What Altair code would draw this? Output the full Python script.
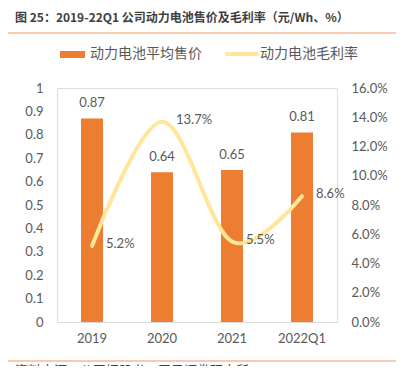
import altair as alt
import pandas as pd

categories = ["2019", "2020", "2021", "2022Q1"]
prices = [0.87, 0.64, 0.65, 0.81]
margins = [0.052, 0.137, 0.055, 0.086]
price_labels = ["0.87", "0.64", "0.65", "0.81"]
margin_labels = ["5.2%", "13.7%", "5.5%", "8.6%"]
left_ticks = [0, 0.1, 0.2, 0.3, 0.4, 0.5, 0.6, 0.7, 0.8, 0.9, 1.0]
right_ticks = [0, 0.02, 0.04, 0.06, 0.08, 0.10, 0.12, 0.14, 0.16]

title_text = "图 25：2019-22Q1 公司动力电池售价及毛利率（元/Wh、%）"
footer_text = "资料来源：公司招股书，天风证券研究所"
legend_bar = "动力电池平均售价"
legend_line = "动力电池毛利率"

df = pd.DataFrame({
    "cat": categories,
    "price": prices,
    "margin": margins,
    "plabel": price_labels,
    "mlabel": margin_labels,
})

GRAY = "#595959"
FONT = "Noto Sans CJK SC"
NUMFONT = "Lato"
ORANGE = "#ED7D31"
YELLOW = "#FFE699"

xscale = alt.Scale(domain=categories, paddingInner=0.686, paddingOuter=0.343)
x_axis = alt.Axis(title=None, labelAngle=0, ticks=False, domainColor="#D9D9D9",
                  domainWidth=1, labelFontSize=13, labelColor=GRAY, labelFont=NUMFONT,
                  labelPadding=10, grid=False)
left_axis = alt.Axis(title=None, values=left_ticks, format="~g", domain=False,
                     ticks=False, grid=False, labelPadding=14, labelFontSize=13,
                     labelColor=GRAY, labelFont=NUMFONT, orient="left")
right_axis = alt.Axis(title=None, values=right_ticks, format=".1%", domain=False,
                      ticks=False, grid=False, labelPadding=14, labelFontSize=13,
                      labelColor=GRAY, labelFont=NUMFONT, orient="right")
left_scale = alt.Scale(domain=[0, 1])
right_scale = alt.Scale(domain=[0, 0.16])

X = alt.X("cat:N", sort=categories, scale=xscale, axis=x_axis)

base = alt.Chart(df)

bars = base.mark_bar(color=ORANGE).encode(
    x=X,
    y=alt.Y("price:Q", scale=left_scale, axis=left_axis),
)
bar_text = base.mark_text(dy=-15, baseline="middle", fontSize=13, color=GRAY, font=NUMFONT).encode(
    x=X,
    y=alt.Y("price:Q", scale=left_scale, axis=left_axis),
    text="plabel:N",
)

line = base.mark_line(interpolate="cardinal", strokeWidth=4, color=YELLOW, strokeCap="round").encode(
    x=X,
    y=alt.Y("margin:Q", scale=right_scale, axis=right_axis),
)
line_text = base.mark_text(dx=14, dy=-2, align="left", baseline="middle", fontSize=13,
                           color=GRAY, font=NUMFONT).encode(
    x=X,
    y=alt.Y("margin:Q", scale=right_scale, axis=right_axis),
    text="mlabel:N",
)

left_layer = alt.layer(bars, bar_text)
right_layer = alt.layer(line, line_text)

one = pd.DataFrame({"t": [0]})

title = alt.Chart(pd.DataFrame({"t": [title_text]})).mark_text(
    align="left", baseline="middle", fontSize=12, fontWeight="bold", color="#404040", font=FONT
).encode(x=alt.value(-42), y=alt.value(-70), text="t:N")

top_rule = alt.Chart(one).mark_rule(color="#F8CBAD", strokeWidth=2).encode(
    x=alt.value(-51), x2=alt.value(346), y=alt.value(-55))
bottom_rule = alt.Chart(one).mark_rule(color="#F8CBAD", strokeWidth=2).encode(
    x=alt.value(-51), x2=alt.value(346), y=alt.value(273))
footer = alt.Chart(pd.DataFrame({"t": [footer_text]})).mark_text(
    align="left", baseline="middle", fontSize=13, color="#404040", font=FONT
).encode(x=alt.value(-42), y=alt.value(283), text="t:N")

leg_rect = alt.Chart(one).mark_rect(color=ORANGE).encode(
    x=alt.value(3), x2=alt.value(28), y=alt.value(-37), y2=alt.value(-30))
leg_t1 = alt.Chart(pd.DataFrame({"t": [legend_bar]})).mark_text(
    align="left", baseline="middle", fontSize=14, color=GRAY, font=FONT
).encode(x=alt.value(33), y=alt.value(-34), text="t:N")
leg_line = alt.Chart(one).mark_rule(color=YELLOW, strokeWidth=4, strokeCap="round").encode(
    x=alt.value(170), x2=alt.value(200), y=alt.value(-34))
leg_t2 = alt.Chart(pd.DataFrame({"t": [legend_line]})).mark_text(
    align="left", baseline="middle", fontSize=14, color=GRAY, font=FONT
).encode(x=alt.value(203), y=alt.value(-34), text="t:N")

chart = alt.layer(
    left_layer, right_layer, title, top_rule, bottom_rule, footer,
    leg_rect, leg_t1, leg_line, leg_t2
).resolve_scale(y="independent").properties(
    width=280, height=234,
    autosize=alt.AutoSizeParams(type="none"),
    padding={"left": 49, "top": 80, "right": 59, "bottom": 44},
).configure_view(stroke=None).configure(background="white")

chart.save("out.html", embed_options={"renderer": "svg", "actions": False})
